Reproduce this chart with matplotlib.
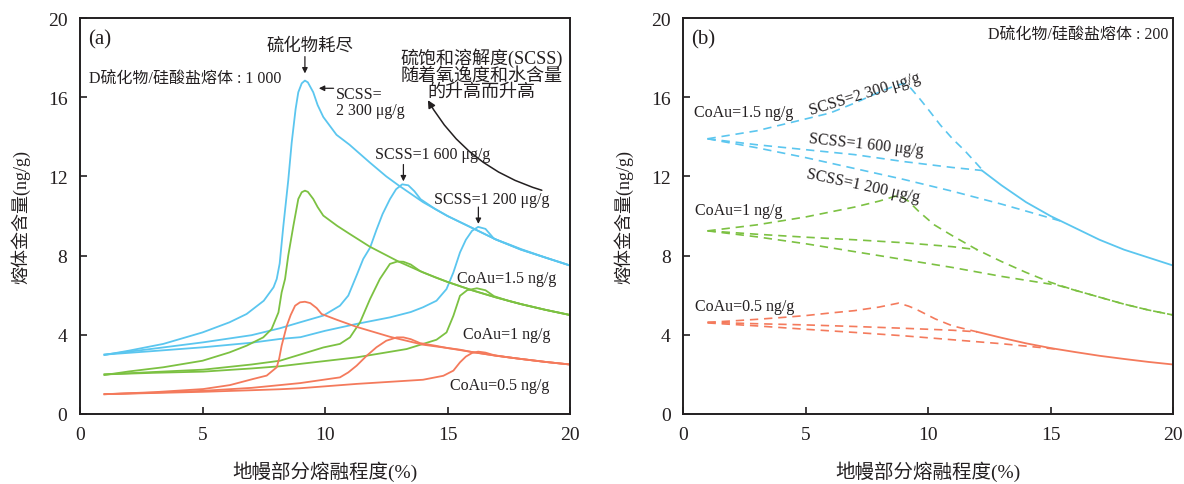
import matplotlib
matplotlib.use("Agg")
import matplotlib.pyplot as plt

plt.rcParams['font.family'] = ['Liberation Serif', 'Noto Sans CJK SC', 'DejaVu Sans']

BLUE = '#5bc6ef'
GREEN = '#7cc142'
RED = '#f47a5c'
INK = '#231f20'

# ---- panel (a): D sulfide/silicate = 1000, solid curves ----
# CoAu = 1.5 ng/g
blue_a1_x = [1, 2, 3.4, 5, 6.1, 6.8, 7.5, 7.9, 8.03, 8.15, 8.3, 8.5, 8.64, 8.8, 8.91, 9.05, 9.18, 9.3, 9.52,
             9.7, 9.93, 10.47, 11, 11.83, 12.5, 13, 14, 15, 16, 17, 18, 19, 20]
blue_a1_y = [2.98, 3.2, 3.54, 4.12, 4.63, 5.05, 5.72, 6.4, 6.82, 7.6, 9.5, 11.8, 13.7, 15.4, 16.25, 16.7, 16.84,
             16.75, 16.25, 15.6, 15.0, 14.1, 13.6, 12.7, 12.0, 11.55, 10.7, 10.0, 9.4, 8.8, 8.3, 7.9, 7.5]
blue_a2_x = [1, 3, 5.03, 7, 8.16, 8.98, 9.93, 10.61, 10.95, 11.29, 11.56, 11.84, 12.1, 12.35, 12.65, 12.9,
             13.15, 13.4, 13.65, 13.9, 14.5, 15, 16, 17, 18, 19, 20]
blue_a2_y = [3.0, 3.3, 3.62, 3.98, 4.33, 4.63, 4.97, 5.47, 5.98, 7.0, 7.83, 8.4, 9.3, 10.1, 10.85, 11.35,
             11.6, 11.55, 11.25, 10.85, 10.35, 10.0, 9.4, 8.8, 8.3, 7.9, 7.5]
blue_a3_x = [1, 3, 5.03, 7, 8.16, 9, 10, 11.29, 12.65, 13.5, 14, 14.55, 14.96, 15.24, 15.51, 15.75, 16.0,
             16.25, 16.55, 16.9, 17.5, 18, 19, 20]
blue_a3_y = [3.0, 3.18, 3.37, 3.6, 3.79, 3.88, 4.2, 4.55, 4.88, 5.15, 5.39, 5.72, 6.31, 7.15, 8.16, 8.8, 9.25,
             9.45, 9.35, 8.85, 8.57, 8.33, 7.9, 7.5]
# CoAu = 1 ng/g
green_a1_x = [1, 2, 3.4, 5, 6.1, 6.8, 7.48, 7.82, 8.1, 8.23, 8.37, 8.5, 8.71, 8.91, 9.05, 9.18, 9.3, 9.52,
              9.7, 9.93, 10.5, 11, 11.83, 13, 14, 15, 16, 17, 18, 19, 20]
green_a1_y = [1.97, 2.15, 2.36, 2.69, 3.11, 3.45, 3.87, 4.29, 5.13, 6.14, 6.82, 8.0, 9.51, 10.86, 11.2, 11.28,
              11.22, 10.86, 10.45, 10.02, 9.5, 9.1, 8.45, 7.7, 7.15, 6.67, 6.25, 5.88, 5.55, 5.26, 5.0]
green_a2_x = [1, 3, 5.03, 7, 8.16, 8.98, 9.93, 10.61, 11.02, 11.43, 11.84, 12.24, 12.65, 12.95, 13.2, 13.5,
              13.88, 14.5, 15, 16, 17, 18, 19, 20]
green_a2_y = [2.0, 2.12, 2.24, 2.5, 2.69, 3.0, 3.36, 3.54, 3.87, 4.63, 5.81, 6.82, 7.58, 7.7, 7.69, 7.55,
              7.22, 6.9, 6.67, 6.25, 5.88, 5.55, 5.26, 5.0]
green_a3_x = [1, 3, 5.03, 7, 8.16, 8.98, 11.29, 13.33, 14.55, 14.96, 15.24, 15.51, 15.8, 16.2, 16.55, 16.9,
              17.5, 18, 19, 20]
green_a3_y = [2.0, 2.08, 2.14, 2.3, 2.41, 2.53, 2.86, 3.28, 3.75, 4.12, 4.96, 5.97, 6.25, 6.35, 6.25, 5.95,
              5.71, 5.55, 5.26, 5.0]
# CoAu = 0.5 ng/g
red_a1_x = [1, 3, 5.03, 6.12, 7.07, 7.62, 8.03, 8.13, 8.23, 8.44, 8.6, 8.78, 8.98, 9.18, 9.4, 9.66, 9.86,
            10.5, 11.29, 12.65, 14.0, 15.5, 16, 17, 18, 19, 20]
red_a1_y = [1.0, 1.1, 1.26, 1.46, 1.77, 1.94, 2.36, 2.8, 3.45, 4.46, 5.0, 5.47, 5.64, 5.67, 5.6, 5.35, 5.05,
            4.75, 4.4, 3.9, 3.5, 3.25, 3.13, 2.94, 2.78, 2.63, 2.5]
red_a2_x = [1, 3, 5, 7, 8.16, 8.98, 10.61, 10.95, 11.29, 11.7, 12.1, 12.5, 12.93, 13.2, 13.5, 13.88, 14.5,
            15, 16, 17, 18, 19, 20]
red_a2_y = [1.0, 1.08, 1.17, 1.32, 1.46, 1.56, 1.85, 2.1, 2.44, 2.94, 3.37, 3.7, 3.87, 3.87, 3.78, 3.58,
            3.45, 3.33, 3.13, 2.94, 2.78, 2.63, 2.5]
red_a3_x = [1, 3, 5, 7, 8.16, 8.98, 11.29, 14.0, 14.83, 15.24, 15.51, 15.75, 16.0, 16.25, 16.55, 16.9, 17.5,
            18, 19, 20]
red_a3_y = [1.0, 1.06, 1.12, 1.2, 1.25, 1.3, 1.52, 1.73, 1.93, 2.19, 2.61, 2.9, 3.08, 3.15, 3.1, 2.97, 2.86,
            2.78, 2.63, 2.5]

# ---- panel (b): D sulfide/silicate = 200, dashed paths ----
blue_b1_x = [1, 2, 3, 4, 5, 6, 7, 8, 8.5, 9.0, 9.3, 9.65, 10.0, 10.5, 11.0, 11.5, 12.2]
blue_b1_y = [13.9, 14.1, 14.3, 14.6, 14.9, 15.2, 15.7, 16.25, 16.5, 16.7, 16.45, 15.94, 15.4, 14.6, 13.9,
             13.3, 12.35]
blue_b2_x = [1, 3, 5, 7, 9, 11, 12.2]
blue_b2_y = [13.9, 13.6, 13.35, 13.1, 12.75, 12.45, 12.3]
blue_b3_x = [1, 3, 5, 7, 9, 11, 13, 14, 15.4]
blue_b3_y = [13.9, 13.45, 12.95, 12.4, 11.85, 11.25, 10.6, 10.25, 9.75]
blue_b_tail_x = [12.2, 13, 14, 15, 16, 17, 18, 19, 20]
blue_b_tail_y = [12.3, 11.55, 10.7, 10.0, 9.4, 8.8, 8.3, 7.9, 7.5]

green_b1_x = [1, 2, 3, 4, 5, 6, 7, 8, 8.8, 9.2, 9.65, 10.26, 11.0, 12, 13, 14, 15, 16, 17, 18, 19, 20]
green_b1_y = [9.25, 9.4, 9.55, 9.75, 9.95, 10.2, 10.45, 10.75, 11.05, 10.75, 10.2, 9.55, 9.0, 8.3, 7.7, 7.15,
              6.65, 6.25, 5.9, 5.55, 5.25, 5.0]
green_b2_x = [1, 3, 5, 7, 9, 11, 12]
green_b2_y = [9.25, 9.08, 8.93, 8.8, 8.65, 8.45, 8.3]
green_b3_x = [1, 3, 5, 7, 9, 11, 13, 15.3, 16, 17, 18, 19, 20]
green_b3_y = [9.25, 8.95, 8.6, 8.2, 7.8, 7.4, 6.95, 6.5, 6.25, 5.9, 5.55, 5.25, 5.0]

red_b1_x = [1, 2, 3, 4, 5, 6, 7, 8, 8.8, 9.2, 9.5, 10.3, 11.0, 12.0]
red_b1_y = [4.63, 4.7, 4.78, 4.87, 4.97, 5.1, 5.22, 5.4, 5.6, 5.45, 5.3, 4.8, 4.45, 4.15]
red_b2_x = [1, 3, 5, 7, 9, 11, 12]
red_b2_y = [4.63, 4.56, 4.5, 4.42, 4.33, 4.23, 4.15]
red_b3_x = [1, 3, 5, 7, 9, 11, 13, 15.3]
red_b3_y = [4.6, 4.45, 4.28, 4.12, 3.95, 3.75, 3.55, 3.27]
red_b_tail_x = [12, 13, 14, 15, 16, 17, 18, 19, 20]
red_b_tail_y = [4.15, 3.85, 3.57, 3.33, 3.13, 2.94, 2.78, 2.63, 2.5]

x_ticks = [0, 5, 10, 15, 20]
y_ticks = [0, 4, 8, 12, 16, 20]

fig = plt.figure(figsize=(11.84, 4.85), dpi=100)
ax_a = fig.add_axes([80 / 1184, 1 - 415 / 485, 490 / 1184, 396 / 485])
ax_b = fig.add_axes([683 / 1184, 1 - 415 / 485, 490 / 1184, 396 / 485])

for ax in (ax_a, ax_b):
    ax.set_xlim(0, 20)
    ax.set_ylim(0, 20)
    ax.set_xticks(x_ticks)
    ax.set_yticks(y_ticks)
    ax.tick_params(direction='in', length=5, width=1.2, labelsize=14, pad=9, colors=INK)
    for sp in ax.spines.values():
        sp.set_linewidth(1.4)
        sp.set_color(INK)
    ax.set_xlabel('地幔部分熔融程度(%)', fontsize=14, color=INK)
    ax.set_ylabel('熔体金含量(ng/g)', fontsize=13, color=INK)
    ax.xaxis.label.set_va('center')
    ax.yaxis.label.set_va('center')
    ax.xaxis.set_label_coords(0.5, -0.143)
    ax.yaxis.set_label_coords(-0.122, 0.5)

lw = 1.3
for xs, ys, c in [(blue_a1_x, blue_a1_y, BLUE), (blue_a2_x, blue_a2_y, BLUE), (blue_a3_x, blue_a3_y, BLUE),
                  (green_a1_x, green_a1_y, GREEN), (green_a2_x, green_a2_y, GREEN),
                  (green_a3_x, green_a3_y, GREEN),
                  (red_a1_x, red_a1_y, RED), (red_a2_x, red_a2_y, RED), (red_a3_x, red_a3_y, RED)]:
    ax_a.plot(xs, ys, color=c, lw=lw, solid_joinstyle='round')

dash = (0, (5, 3.5))
for xs, ys, c in [(blue_b1_x, blue_b1_y, BLUE), (blue_b2_x, blue_b2_y, BLUE), (blue_b3_x, blue_b3_y, BLUE),
                  (green_b1_x, green_b1_y, GREEN), (green_b2_x, green_b2_y, GREEN),
                  (green_b3_x, green_b3_y, GREEN),
                  (red_b1_x, red_b1_y, RED), (red_b2_x, red_b2_y, RED), (red_b3_x, red_b3_y, RED)]:
    ax_b.plot(xs, ys, color=c, lw=1.2, linestyle=dash)
ax_b.plot(blue_b_tail_x, blue_b_tail_y, color=BLUE, lw=lw)
ax_b.plot(red_b_tail_x, red_b_tail_y, color=RED, lw=lw)

# ---- annotations, panel (a) ----
fs = 11.5
arrow_kw = dict(arrowstyle='-|>', color=INK, lw=0.9, mutation_scale=8, shrinkA=0, shrinkB=0)
ax_a.text(0.35, 18.95, '(a)', fontsize=15, color=INK, va='center')
ax_a.text(9.39, 18.6, '硫化物耗尽', fontsize=12.5, color=INK, ha='center', va='center')
ax_a.annotate('', xy=(9.18, 17.2), xytext=(9.18, 18.05), arrowprops=arrow_kw)
ax_a.text(0.36, 16.95, 'D硫化物/硅酸盐熔体 : 1 000', fontsize=fs, color=INK, va='center')
ax_a.text(10.45, 15.75, 'SCSS=\n2 300 μg/g', fontsize=fs, color=INK, va='center', linespacing=1.05)
ax_a.annotate('', xy=(9.75, 16.45), xytext=(10.35, 16.45), arrowprops=arrow_kw)
ax_a.text(16.4, 17.2, '硫饱和溶解度(SCSS)\n随着氧逸度和水含量\n的升高而升高', fontsize=13,
          color=INK, ha='center', va='center', linespacing=0.95)
ax_a.annotate('', xy=(14.2, 15.85), xytext=(18.85, 11.3),
              arrowprops=dict(arrowstyle='-|>', color=INK, lw=1.1, mutation_scale=11,
                              shrinkA=0, shrinkB=0, connectionstyle='arc3,rad=-0.2'))
ax_a.text(14.4, 13.15, 'SCSS=1 600 μg/g', fontsize=fs, color=INK, ha='center', va='center')
ax_a.annotate('', xy=(13.2, 11.75), xytext=(13.2, 12.6), arrowprops=arrow_kw)
ax_a.text(16.8, 10.86, 'SCSS=1 200 μg/g', fontsize=fs, color=INK, ha='center', va='center')
ax_a.annotate('', xy=(16.26, 9.6), xytext=(16.26, 10.45), arrowprops=arrow_kw)
ax_a.text(17.43, 6.85, 'CoAu=1.5 ng/g', fontsize=fs, color=INK, ha='center', va='center')
ax_a.text(17.42, 4.04, 'CoAu=1 ng/g', fontsize=fs, color=INK, ha='center', va='center')
ax_a.text(17.14, 1.48, 'CoAu=0.5 ng/g', fontsize=fs, color=INK, ha='center', va='center')

# ---- annotations, panel (b) ----
ax_b.text(0.35, 18.95, '(b)', fontsize=15, color=INK, va='center')
ax_b.text(19.82, 19.15, 'D硫化物/硅酸盐熔体 : 200', fontsize=fs, color=INK, ha='right', va='center')
ax_b.text(0.44, 15.23, 'CoAu=1.5 ng/g', fontsize=fs, color=INK, va='center')
ax_b.text(7.4, 16.2, 'SCSS=2 300 μg/g', fontsize=fs, color=INK, ha='center', va='center',
          rotation=17, rotation_mode='anchor')
ax_b.text(7.47, 13.65, 'SCSS=1 600 μg/g', fontsize=fs, color=INK, ha='center', va='center',
          rotation=-6, rotation_mode='anchor')
ax_b.text(7.37, 11.54, 'SCSS=1 200 μg/g', fontsize=fs, color=INK, ha='center', va='center',
          rotation=-12, rotation_mode='anchor')
ax_b.text(0.49, 10.32, 'CoAu=1 ng/g', fontsize=fs, color=INK, va='center')
ax_b.text(0.49, 5.45, 'CoAu=0.5 ng/g', fontsize=fs, color=INK, va='center')

fig.savefig('out.png', dpi=100)
